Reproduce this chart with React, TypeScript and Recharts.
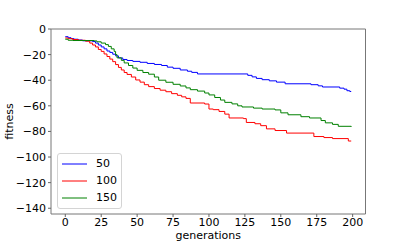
import React from 'react';
import { LineChart, Line, XAxis, YAxis, ReferenceArea, Legend } from 'recharts';

const xTicks = [0, 25, 50, 75, 100, 125, 150, 175, 200];
const yTicks = [0, -20, -40, -60, -80, -100, -120, -140];

const seriesNames = ['50', '100', '150'];
const seriesColors = ['#0000ff', '#ff0000', '#008000'];

const gens50 = [0, 2, 4, 6, 9, 12, 19, 21, 23, 25, 27, 29, 31, 33, 35, 37, 40, 43, 47, 52, 57, 62, 67, 71, 75, 80, 85, 88, 92, 127, 130, 133, 137, 142, 147, 153, 171, 176, 179, 191, 194, 196, 198, 199];
const fit50 = [-6, -6.8, -7.5, -8, -8.6, -9.2, -9.8, -11, -12.5, -14, -15.5, -17.2, -18.3, -19.7, -21, -22.6, -23.8, -24.6, -25.3, -26, -26.9, -27.7, -28.5, -29.8, -30.7, -32, -33, -33.9, -35.1, -36.2, -37.4, -38.6, -39.6, -40.5, -41.5, -42.8, -43.5, -44.4, -45.3, -46.2, -47, -48.2, -48.8, -48.8];

const gens100 = [0, 2, 5, 9, 14, 17, 19, 21, 23, 25, 27, 29, 31, 33, 35, 37, 39, 41, 43, 46, 49, 52, 55, 58, 62, 66, 70, 74, 78, 81, 84, 87, 97, 100, 103, 107, 111, 114, 124, 126, 132, 136, 140, 146, 154, 173, 180, 186, 197, 199];
const fit100 = [-7, -7.5, -8.2, -8.8, -9.5, -11, -12.5, -14, -16, -17.5, -19.5, -21.5, -23.5, -25.5, -27.8, -30, -32, -34, -35.5, -37.5, -39.8, -41.5, -43.5, -45, -46.5, -47.8, -49, -50.5, -51.8, -53, -54.2, -57.8, -58.6, -62.5, -63, -64.4, -66.5, -69.5, -70, -73, -74, -75.5, -78, -79.3, -81.3, -84, -84.8, -85.6, -87.5, -87.5];

const gens150 = [0, 2, 5, 20, 22, 25, 28, 30, 32, 34, 35, 36, 39, 41, 44, 47, 50, 54, 58, 62, 65, 70, 75, 80, 84, 87, 92, 97, 100, 104, 108, 111, 116, 120, 123, 131, 137, 146, 150, 155, 164, 170, 178, 181, 186, 190, 199];
const fit150 = [-8, -8.8, -9, -9.3, -10, -11, -12.2, -13.6, -15.5, -17.5, -20, -22.5, -24.5, -26.5, -28.5, -30.5, -32.3, -34, -35.3, -37.5, -40, -41.6, -43.2, -44.5, -46, -47.4, -48.5, -50, -51.5, -53.5, -55.5, -57.3, -58.5, -60, -60.9, -61.8, -62.5, -63.2, -65.5, -67, -68.5, -69.5, -71.5, -73.3, -74.5, -76, -76.5];

const toPoints = (gens: number[], vals: number[]) => gens.map((g, i) => ({ g, v: vals[i] }));
const seriesData = [toPoints(gens50, fit50), toPoints(gens100, fit100), toPoints(gens150, fit150)];

const FONT = 'DejaVu Sans';
const fmt = (v: number) => String(v).replace('-', '\u2212');

const renderLegend = () => (
  <div
    style={{
      width: 65,
      height: 56,
      boxSizing: 'border-box',
      border: '1px solid #d4d4d4',
      borderRadius: 3,
      background: 'rgba(255,255,255,0.8)',
      fontFamily: FONT,
      fontSize: 11,
      position: 'relative',
    }}
  >
    {seriesNames.map((name, i) => (
      <div
        key={name}
        style={{ position: 'absolute', left: 4, top: 2.7 + i * 17, height: 14, display: 'flex', alignItems: 'center' }}
      >
        <svg width={25} height={14} style={{ display: 'block' }}>
          <line x1={0} x2={25} y1={7} y2={7} stroke={seriesColors[i]} strokeWidth={1} />
        </svg>
        <span style={{ marginLeft: 9, color: '#000', lineHeight: '14px' }}>{name}</span>
      </div>
    ))}
  </div>
);

const YLabel = (props: any) => {
  const vb = props.viewBox || { x: 0, y: 0, width: 0, height: 0 };
  const x = vb.x + 7;
  const y = vb.y + vb.height / 2;
  return (
    <text x={x} y={y} transform={`rotate(-90 ${x} ${y})`} textAnchor="middle" fontSize={11} fontFamily={FONT} fill="#000">
      fitness
    </text>
  );
};

const XLabel = (props: any) => {
  const vb = props.viewBox || { x: 0, y: 0, width: 0, height: 0 };
  return (
    <text x={vb.x + vb.width / 2} y={vb.y + 25} textAnchor="middle" fontSize={11} fontFamily={FONT} fill="#000">
      generations
    </text>
  );
};

export default function App() {
  return (
    <div style={{ position: 'absolute', left: 0, top: 0, width: 407, height: 244, background: '#fff' }}>
      <LineChart width={407} height={244} margin={{ top: 29, right: 41.5, bottom: 0, left: 6 }}>
        <XAxis
          type="number"
          dataKey="g"
          domain={[-9.95, 208.95]}
          ticks={xTicks}
          interval={0}
          allowDataOverflow
          height={30}
          axisLine={false}
          tickLine={{ stroke: '#666' }}
          tickSize={3}
          tickMargin={1}
          tick={{ fontSize: 11, fill: '#000', fontFamily: FONT }}
          label={{ content: XLabel }}
        />
        <YAxis
          type="number"
          domain={[-144.5, 0]}
          ticks={yTicks}
          interval={0}
          allowDataOverflow
          width={45}
          axisLine={false}
          tickLine={{ stroke: '#666' }}
          tickSize={3}
          tickMargin={2}
          tickFormatter={fmt}
          tick={{ fontSize: 11, fill: '#000', fontFamily: FONT }}
          label={{ content: YLabel }}
        />
        <ReferenceArea x1={-9.95} x2={208.95} y1={-144.5} y2={0} fill="none" stroke="#777" strokeWidth={1} ifOverflow="visible" />
        {seriesData.map((d, i) => (
          <Line
            key={seriesNames[i]}
            data={d}
            dataKey="v"
            name={seriesNames[i]}
            type="stepAfter"
            stroke={seriesColors[i]}
            strokeWidth={1}
            dot={false}
            activeDot={false}
            isAnimationActive={false}
          />
        ))}
        <Legend
          layout="vertical"
          align="center"
          verticalAlign="middle"
          content={renderLegend}
          wrapperStyle={{ position: 'absolute', left: 57, top: 153, bottom: 'auto', right: 'auto', width: 65, height: 56 }}
        />
      </LineChart>
    </div>
  );
}
